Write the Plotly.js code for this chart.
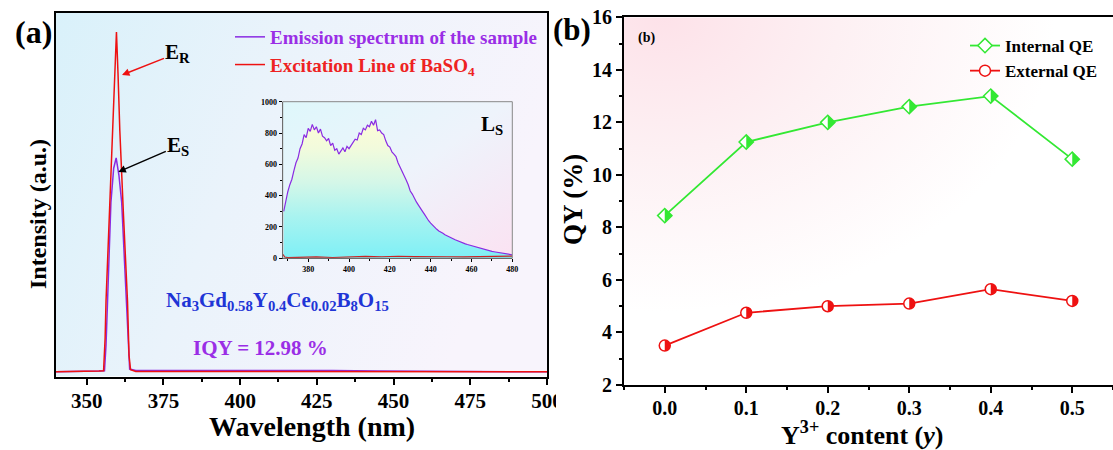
<!DOCTYPE html>
<html><head><meta charset="utf-8">
<script src="https://cdn.plot.ly/plotly-3.0.1.min.js"></script>
<style>html,body{margin:0;padding:0;background:#fff;}#chart{width:1113px;height:450px;}</style>
</head><body><div id="chart"></div>
<script>
// ---------- DATA ----------
// main panel (a): normalised spectra
var mainWl_exc = [340, 345, 350, 354, 355.5, 356, 356.3, 357.3, 358.3, 359, 359.7, 360.2, 360.8, 362, 363.3, 363.8, 364.3, 366, 380, 400, 420, 440, 460, 480, 500];
var excitationBaSO4 = [0.002, 0.002, 0.003, 0.004, 0.005, 0.1, 0.21, 0.46, 0.71, 0.87, 1.0, 0.88, 0.71, 0.46, 0.21, 0.05, 0.008, 0.003, 0.003, 0.003, 0.003, 0.002, 0.002, 0.002, 0.002];
var mainWl_em = [340, 345, 350, 354, 355.8, 356.3, 356.8, 357.9, 358.8, 359.6, 360.5, 361.4, 362.3, 363, 363.6, 364, 366, 375, 390, 410, 430, 445, 460, 480, 500];
var emissionSample = [0.002, 0.002, 0.003, 0.004, 0.005, 0.08, 0.21, 0.5, 0.6, 0.63, 0.58, 0.5, 0.33, 0.2, 0.05, 0.01, 0.006, 0.006, 0.007, 0.007, 0.006, 0.004, 0.003, 0.002, 0.002];

// inset: emission band L_S (counts)
var insetWl = [368,369,370,371,372,373,374,375,376,377,378,379,380,381,382,383,384,385,386,387,388,389,390,391,392,393,394,395,396,397,398,399,400,401,402,403,404,405,406,407,408,409,410,411,412,413,414,415,416,417,418,419,420,421,422,423,424,425,426,427,428,429,430,431,432,433,434,435,436,437,438,439,440,441,442,443,444,445,446,447,448,449,450,451,452,453,454,455,456,457,458,459,460,461,462,463,464,465,466,467,468,469,470,471,472,473,474,475,476,477,478,479,480];
var insetEmission = [300,370,425,470,505,560,610,640,700,730,790,770,830,810,855,820,840,800,825,780,770,750,765,720,735,690,700,665,690,705,680,715,700,720,745,760,755,800,790,830,820,850,840,875,850,885,815,820,800,790,750,720,710,680,665,650,610,585,560,530,500,470,430,410,380,360,340,315,300,280,255,240,225,210,195,185,175,170,160,150,145,135,130,125,118,112,108,100,96,92,88,84,80,76,72,68,64,60,57,54,50,47,44,42,40,38,35,32,30,28,26,24,22];
var insetRefWl = [367.6, 368.5, 370, 376, 384, 392, 400, 408, 416, 424, 432, 440, 448, 456, 464, 472, 480];
var insetRef = [25, 8, 4, 6, 9, 5, 8, 12, 10, 13, 11, 12, 10, 9, 11, 10, 14];

// panel (b): quantum yields
var yContent = [0.0, 0.1, 0.2, 0.3, 0.4, 0.5];
var internalQE = [8.45, 11.25, 12.0, 12.6, 13.0, 10.6];
var externalQE = [3.5, 4.75, 5.0, 5.1, 5.65, 5.2];
var xTicksB = [0.0, 0.1, 0.2, 0.3, 0.4, 0.5];
var xTickTextB = ['0.0', '0.1', '0.2', '0.3', '0.4', '0.5'];

// ---------- STYLE ----------
var W = 1113, H = 450;
function px(x){ return x / W; }
function py(y){ return 1 - y / H; }
var FONT = 'Liberation Serif, Times New Roman, serif';
var PURPLE = '#8a2be2', RED = '#ee1111', GREEN = '#33e833', ERED = '#ee1111';

function svgURI(svg){ return 'data:image/svg+xml;charset=utf-8,' + encodeURIComponent(svg); }
var bgA = svgURI("<svg xmlns='http://www.w3.org/2000/svg' width='200' height='100' viewBox='0 0 200 100' preserveAspectRatio='none'><defs><linearGradient id='g' x1='0' y1='0' x2='1' y2='0.3'><stop offset='0' stop-color='#d9f1fa'/><stop offset='0.45' stop-color='#eaf3fb'/><stop offset='1' stop-color='#f8f4fc'/></linearGradient></defs><rect width='200' height='100' fill='url(#g)'/></svg>");
var bgInset = svgURI("<svg xmlns='http://www.w3.org/2000/svg' width='200' height='100' viewBox='0 0 200 100' preserveAspectRatio='none'><defs><linearGradient id='g' x1='0' y1='0' x2='1' y2='1'><stop offset='0' stop-color='#def7fb'/><stop offset='0.5' stop-color='#eef3fb'/><stop offset='1' stop-color='#fbe2f2'/></linearGradient></defs><rect width='200' height='100' fill='url(#g)'/></svg>");
var bgB = svgURI("<svg xmlns='http://www.w3.org/2000/svg' width='200' height='150' viewBox='0 0 200 150' preserveAspectRatio='none'><defs><radialGradient id='g' cx='0.08' cy='0.0' r='0.8'><stop offset='0' stop-color='#fde2e9'/><stop offset='0.45' stop-color='#fdf0f3'/><stop offset='1' stop-color='#ffffff'/></radialGradient></defs><rect width='200' height='150' fill='url(#g)'/></svg>");

var traces = [
  {x: mainWl_em, y: emissionSample, type: 'scatter', mode: 'lines', xaxis: 'x', yaxis: 'y',
   line: {color: PURPLE, width: 1.5}, name: '<span style="color:#9a2ee6">Emission spectrum of the sample</span>', legend: 'legend'},
  {x: mainWl_exc, y: excitationBaSO4, type: 'scatter', mode: 'lines', xaxis: 'x', yaxis: 'y',
   line: {color: RED, width: 1.5}, name: '<span style="color:#ee2222">Excitation Line of BaSO<sub>4</sub></span>', legend: 'legend'},
  {x: insetWl, y: insetEmission, type: 'scatter', mode: 'lines', xaxis: 'x2', yaxis: 'y2', showlegend: false,
   line: {color: PURPLE, width: 1.2}, fill: 'tozeroy',
   fillgradient: {type: 'vertical', start: 0, stop: 880,
     colorscale: [[0, '#7ef0f6'], [0.3, '#a8f3f0'], [0.55, '#d4f7e8'], [0.8, '#f2fbdc'], [1, '#fdfcd6']]}},
  {x: insetRefWl, y: insetRef, type: 'scatter', mode: 'lines', xaxis: 'x2', yaxis: 'y2', showlegend: false,
   line: {color: '#cc2222', width: 1.2}},
  {x: yContent, y: internalQE, type: 'scatter', mode: 'lines+markers', xaxis: 'x3', yaxis: 'y3',
   line: {color: GREEN, width: 1.8}, marker: {symbol: 'diamond', size: 11, color: '#ffffff', line: {color: GREEN, width: 1.5}},
   name: 'Internal QE', legend: 'legend2'},
  {x: yContent, y: externalQE, type: 'scatter', mode: 'lines+markers', xaxis: 'x3', yaxis: 'y3',
   line: {color: ERED, width: 1.8}, marker: {symbol: 'circle', size: 11, color: '#ffffff', line: {color: ERED, width: 1.5}},
   name: 'External QE', legend: 'legend2'}
];

// half-filled marker shapes (pixel-sized, anchored at data points)
var rd = 7.1;
var halfDiamond = 'M0,' + (-rd) + ' L' + rd + ',0 L0,' + rd + ' Z';
function halfCircle(r){
  var p = 'M0,' + (-r);
  for (var a = -90; a <= 90; a += 15) {
    var t = a * Math.PI / 180;
    p += ' L' + (r * Math.cos(t)).toFixed(2) + ',' + (r * Math.sin(t)).toFixed(2);
  }
  return p + ' Z';
}
var halfC = halfCircle(5.5);

var shapes = [
  {type: 'rect', xref: 'x2 domain', yref: 'y2 domain', x0: 0, x1: 1, y0: 0, y1: 1, line: {color: '#888', width: 1}, layer: 'above'}
];
for (var i = 0; i < yContent.length; i++) {
  shapes.push({type: 'path', xref: 'x3', yref: 'y3', xsizemode: 'pixel', ysizemode: 'pixel',
    xanchor: yContent[i], yanchor: internalQE[i], path: halfDiamond, fillcolor: GREEN, line: {width: 0}, layer: 'above'});
  shapes.push({type: 'path', xref: 'x3', yref: 'y3', xsizemode: 'pixel', ysizemode: 'pixel',
    xanchor: yContent[i], yanchor: externalQE[i], path: halfC, fillcolor: ERED, line: {width: 0}, layer: 'above'});
}
// crop of the "500" label by panel (b)
shapes.push({type: 'rect', xref: 'paper', yref: 'paper', x0: px(556), x1: px(600), y0: py(412), y1: py(384), fillcolor: '#ffffff', line: {width: 0}, layer: 'above'});

var bold = function(sz, col){ return {family: FONT, size: sz, color: col || '#000', weight: 'bold'}; };
function note(text, x, y, sz, col, angle){
  var a = {text: text, x: px(x), y: py(y), xref: 'paper', yref: 'paper', xanchor: 'center', yanchor: 'middle', showarrow: false, font: bold(sz, col)};
  if (angle) a.textangle = angle;
  return a;
}

var annotations = [
  note('(a)', 33, 32, 32),
  note('(b)', 572, 30, 31),
  note('(b)', 646, 38, 14),
  {text: 'E<sub>R</sub>', x: 361.5, y: 0.874, xref: 'x', yref: 'y', ax: 56, ay: -22, showarrow: true,
   arrowcolor: RED, arrowhead: 2, arrowsize: 1, arrowwidth: 1.5, font: bold(21)},
  {text: 'E<sub>S</sub>', x: 360.3, y: 0.589, xref: 'x', yref: 'y', ax: 60, ay: -26, showarrow: true,
   arrowcolor: '#000', arrowhead: 2, arrowsize: 1, arrowwidth: 1.5, font: bold(21)},
  note('L<sub>S</sub>', 492, 125, 21),
  note('Na<sub>3</sub>Gd<sub>0.58</sub>Y<sub>0.4</sub>Ce<sub>0.02</sub>B<sub>8</sub>O<sub>15</sub>', 277, 301, 21, '#1f35d6'),
  note('IQY = 12.98 %', 260, 348, 21, '#9a2ee6'),
  note('Wavelength (nm)', 312, 426, 28),
  note('Intensity (a.u.)', 38, 214, 24, null, -90),
  note('QY (%)', 573, 200, 27, null, -90),
  note('Y<sup>3+</sup> content (<i>y</i>)', 862, 433, 26)
];

var images = [
  {source: bgA, xref: 'paper', yref: 'paper', x: px(56), y: py(12.5), sizex: px(547) - px(56), sizey: py(12.5) - py(376.5), sizing: 'stretch', layer: 'below', xanchor: 'left', yanchor: 'top'},
  {source: bgInset, xref: 'paper', yref: 'paper', x: px(282.7), y: py(101.7), sizex: px(512.3) - px(282.7), sizey: py(101.7) - py(258.3), sizing: 'stretch', layer: 'below', xanchor: 'left', yanchor: 'top'},
  {source: bgB, xref: 'paper', yref: 'paper', x: px(624), y: py(17.3), sizex: 1 - px(624), sizey: py(17.3) - py(385), sizing: 'stretch', layer: 'below', xanchor: 'left', yanchor: 'top'}
];

var layout = {
  width: W, height: H, margin: {l: 0, r: 0, t: 0, b: 0},
  paper_bgcolor: '#ffffff', plot_bgcolor: 'rgba(0,0,0,0)',
  font: {family: FONT, color: '#000'},
  xaxis: {domain: [px(56), px(547)], anchor: 'y', range: [340, 500], dtick: 25, tick0: 350,
    showline: true, linecolor: '#000', linewidth: 2, mirror: true, ticks: 'outside', ticklen: 6, tickwidth: 2, tickcolor: '#000',
    minor: {dtick: 12.5, ticks: 'outside', ticklen: 3, tickwidth: 2, tickcolor: '#000'},
    showgrid: false, zeroline: false, tickfont: bold(21), ticklabelstandoff: -2},
  yaxis: {domain: [py(376.5), py(12.5)], anchor: 'x', range: [-0.0118, 1.0573], showticklabels: false, ticks: '',
    showline: true, linecolor: '#000', linewidth: 2, mirror: true, showgrid: false, zeroline: false},
  xaxis2: {domain: [px(282.7), px(512.3)], anchor: 'y2', range: [367.5, 480], dtick: 20, tick0: 380,
    showline: true, linecolor: '#000', linewidth: 1, ticks: 'outside', ticklen: 3, tickwidth: 1, tickcolor: '#000',
    minor: {dtick: 10, ticks: 'outside', ticklen: 2, tickwidth: 1, tickcolor: '#000'},
    showgrid: false, zeroline: false, tickfont: bold(8)},
  yaxis2: {domain: [py(258.3), py(101.7)], anchor: 'x2', range: [0, 1000], dtick: 200,
    showline: true, linecolor: '#000', linewidth: 1, ticks: 'outside', ticklen: 3, tickwidth: 1, tickcolor: '#000',
    minor: {dtick: 100, ticks: 'outside', ticklen: 2, tickwidth: 1, tickcolor: '#000'},
    showgrid: false, zeroline: false, tickfont: bold(8)},
  xaxis3: {domain: [px(624), 1], anchor: 'y3', range: [-0.05, 0.55], tickvals: xTicksB, ticktext: xTickTextB,
    showline: true, linecolor: '#000', linewidth: 2, mirror: true, ticks: 'outside', ticklen: 6, tickwidth: 2, tickcolor: '#000',
    minor: {dtick: 0.05, tick0: 0, ticks: 'outside', ticklen: 3, tickwidth: 2, tickcolor: '#000'},
    showgrid: false, zeroline: false, tickfont: bold(20), ticklabelstandoff: -2},
  yaxis3: {domain: [py(385), py(17.3)], anchor: 'x3', range: [2, 16], dtick: 2,
    showline: true, linecolor: '#000', linewidth: 2, ticks: 'outside', ticklen: 6, tickwidth: 2, tickcolor: '#000',
    minor: {dtick: 1, ticks: 'outside', ticklen: 3, tickwidth: 2, tickcolor: '#000'},
    showgrid: false, zeroline: false, tickfont: bold(20)},
  legend: {x: px(230), y: py(18), xanchor: 'left', yanchor: 'top', bgcolor: 'rgba(0,0,0,0)', borderwidth: 0,
    font: bold(19), tracegroupgap: 0, itemwidth: 30},
  legend2: {x: px(965), y: py(28), xanchor: 'left', yanchor: 'top', bgcolor: 'rgba(0,0,0,0)', borderwidth: 0,
    font: bold(17), tracegroupgap: 0, itemwidth: 30},
  shapes: shapes, annotations: annotations, images: images
};

Plotly.newPlot('chart', traces, layout, {displayModeBar: false, staticPlot: true}).then(function(gd){
  // add half-fill to the legend markers of panel (b)
  var pts = document.querySelectorAll('.legend .legendpoints path.scatterpts');
  var box = gd.getBoundingClientRect();
  var extra = [];
  var paths = [halfDiamond, halfC], cols = [GREEN, ERED];
  for (var k = 0; k < pts.length && k < 2; k++) {
    var r = pts[k].getBoundingClientRect();
    var cx = (r.left + r.width / 2 - box.left) / W;
    var cy = 1 - (r.top + r.height / 2 - box.top) / H;
    extra.push({type: 'path', xref: 'paper', yref: 'paper', xsizemode: 'pixel', ysizemode: 'pixel',
      xanchor: cx, yanchor: cy, path: paths[k], fillcolor: cols[k], line: {width: 0}, layer: 'above'});
  }
  if (extra.length) Plotly.relayout(gd, {shapes: shapes.concat(extra)});
});
</script>
</body></html>
